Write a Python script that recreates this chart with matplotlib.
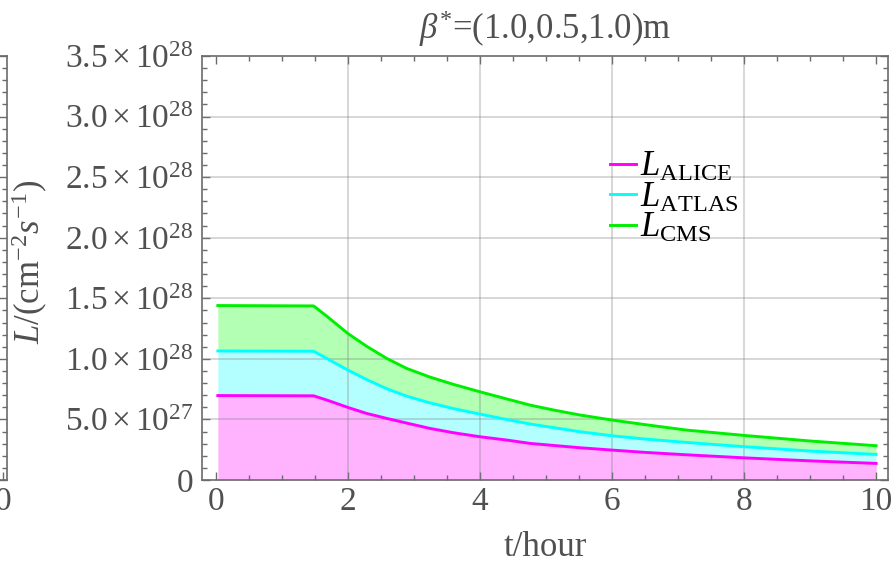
import matplotlib
matplotlib.use("Agg")
import matplotlib.pyplot as plt
from matplotlib.ticker import MultipleLocator

plt.rcParams['font.family'] = ['Liberation Serif', 'DejaVu Serif']
plt.rcParams['mathtext.fontset'] = 'custom'
plt.rcParams['mathtext.rm'] = 'Liberation Serif'
plt.rcParams['mathtext.it'] = 'Liberation Serif:italic'
plt.rcParams['mathtext.bf'] = 'Liberation Serif:bold'

# ---- data (luminosity in units of 1e28 cm^-2 s^-1) ----
t_hour = [0.03, 1.48, 1.68, 2.0, 2.28, 2.59, 2.89, 3.24, 3.6, 4.0, 4.4, 4.76,
          5.14, 5.52, 6.0, 6.5, 7.13, 8.0, 9.0, 10.0]
L_cms = [1.44, 1.437, 1.352, 1.209, 1.105, 1.003, 0.921, 0.85, 0.789, 0.728, 0.67, 0.618,
         0.575, 0.536, 0.495, 0.457, 0.412, 0.368, 0.322, 0.283]
L_atlas = [1.065, 1.063, 1.003, 0.907, 0.83, 0.753, 0.692, 0.637, 0.589, 0.544, 0.5, 0.462,
           0.43, 0.398, 0.365, 0.338, 0.31, 0.275, 0.239, 0.211]
L_alice = [0.697, 0.695, 0.66, 0.599, 0.55, 0.508, 0.47, 0.426, 0.39, 0.357, 0.33, 0.302,
           0.284, 0.266, 0.247, 0.228, 0.208, 0.183, 0.158, 0.137]

series_labels = [r'$L_{\mathrm{ALICE}}$', r'$L_{\mathrm{ATLAS}}$', r'$L_{\mathrm{CMS}}$']

xtick_vals = [0, 2, 4, 6, 8, 10]
xtick_labels = ['0', '2', '4', '6', '8', '10']
ytick_vals = [0, 0.5, 1.0, 1.5, 2.0, 2.5, 3.0, 3.5]
ytick_labels = ['0', r'$5.0\times10^{27}$', r'$1.0\times10^{28}$', r'$1.5\times10^{28}$',
                r'$2.0\times10^{28}$', r'$2.5\times10^{28}$', r'$3.0\times10^{28}$',
                r'$3.5\times10^{28}$']
grid_x = [2, 4, 6, 8]
grid_y = [0.5, 1.0, 1.5, 2.0, 2.5, 3.0]

title = r'$\beta^{*}$=(1.0,0.5,1.0)m'
xlabel = 't/hour'
ylabel = r'$L/(\mathrm{cm}^{-2}s^{-1})$'

# ---- styling ----
W, H = 893, 564
frame_col = '#6b6b6b'
label_col = '#505050'
fs_tick = 24
fs = 25

fig = plt.figure(figsize=(W / 100, H / 100), dpi=100)

# partial neighbouring panel at far left
ax0 = fig.add_axes([(7 - 686) / W, 84 / H, 686 / W, 424 / H])
ax0.set_xlim(0.06 - 686 / 66, 0.06)
ax0.set_ylim(0, 3.5)
ax0.set_xticks([0])
ax0.set_xticklabels(['0'])
ax0.set_yticks(ytick_vals)
ax0.yaxis.set_minor_locator(MultipleLocator(0.1))
ax0.tick_params(which='both', direction='in', left=False, right=True,
                labelleft=False, labelright=False, colors=frame_col,
                labelcolor=label_col, labelsize=fs_tick, pad=5)
ax0.tick_params(which='major', length=6, width=1)
ax0.tick_params(which='minor', length=3.5, width=1)
for s in ax0.spines.values():
    s.set_color(frame_col)
    s.set_linewidth(1.2)

# main panel
ax = fig.add_axes([202 / W, 84 / H, 686 / W, 424 / H])

ax.fill_between(t_hour, 0, L_alice, color='#ffb3ff', lw=0, zorder=1)
ax.fill_between(t_hour, L_alice, L_atlas, color='#b3ffff', lw=0, zorder=1)
ax.fill_between(t_hour, L_atlas, L_cms, color='#b3ffb3', lw=0, zorder=1)

for gx in grid_x:
    ax.axvline(gx, color='#808080', alpha=0.4, lw=1.1, zorder=2)
for gy in grid_y:
    ax.axhline(gy, color='#808080', alpha=0.4, lw=1.1, zorder=2)

ax.plot(t_hour, L_alice, color='#ff00ff', lw=2.1, zorder=3, label=series_labels[0])
ax.plot(t_hour, L_atlas, color='#00ffff', lw=2.1, zorder=3, label=series_labels[1])
ax.plot(t_hour, L_cms, color='#00ee00', lw=2.1, zorder=3, label=series_labels[2])

ax.set_xlim(-0.21, 10.18)
ax.set_ylim(0, 3.5)
ax.set_xticks(xtick_vals)
ax.set_xticklabels(xtick_labels)
ax.xaxis.set_minor_locator(MultipleLocator(0.5))
ax.set_yticks(ytick_vals)
ax.set_yticklabels(ytick_labels)
ax.yaxis.set_minor_locator(MultipleLocator(0.1))
ax.tick_params(which='both', direction='in', top=True, right=True,
               colors=frame_col, labelcolor=label_col, labelsize=fs_tick)
ax.tick_params(which='major', length=6, width=1)
ax.tick_params(which='minor', length=3.5, width=1)
ax.tick_params(axis='x', pad=5)
ax.tick_params(axis='y', pad=6)
for s in ax.spines.values():
    s.set_color(frame_col)
    s.set_linewidth(1.2)

leg = ax.legend(loc='upper left', bbox_to_anchor=(610 / W, 1 - 151 / H),
                bbox_transform=fig.transFigure, frameon=False, fontsize=fs,
                handlelength=0.75, handletextpad=0.1, labelspacing=-0.08,
                borderpad=0, borderaxespad=0)
for txt in leg.get_texts():
    txt.set_color('black')

fig.text(545 / W, 1 - 29 / H, title, ha='center', va='center',
         fontsize=fs, color=label_col)
fig.text(545 / W, 1 - 548 / H, xlabel, ha='center', va='center',
         fontsize=fs, color=label_col)
fig.text(30 / W, 1 - 262 / H, ylabel, ha='center', va='center',
         rotation=90, fontsize=fs, color=label_col)

fig.savefig('out.png', dpi=100)
